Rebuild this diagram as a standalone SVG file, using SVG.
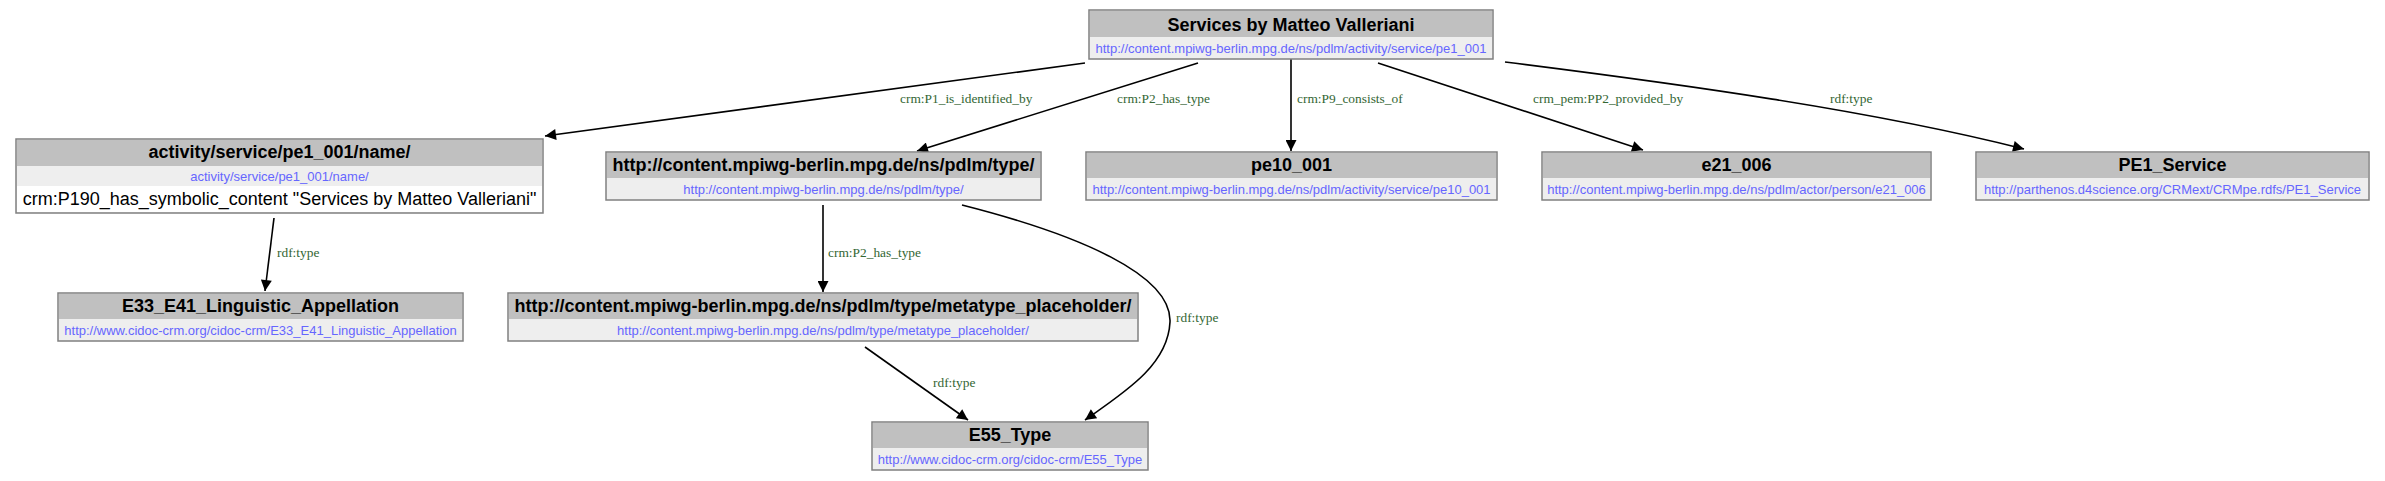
<svg xmlns="http://www.w3.org/2000/svg" width="2385" height="481" viewBox="0 0 2385 481">
<style>
.box{fill:#eeeeee;stroke:#808080;stroke-width:1.5}
.lit{fill:#ffffff;stroke:none}
.hdr{fill:#c0c0c0;stroke:none}
.title{font-family:"Liberation Sans",Arial,sans-serif;font-size:18px;font-weight:bold;fill:#000;text-anchor:middle}
.url{font-family:"Liberation Sans",Arial,sans-serif;font-size:13px;fill:#6666ff;text-anchor:middle}
.littext{font-family:"Liberation Sans",Arial,sans-serif;font-size:18px;fill:#000;text-anchor:middle}
.edge{fill:none;stroke:#000;stroke-width:1.6;marker-end:url(#arr)}
.elabel{font-family:"Liberation Serif","Times New Roman",serif;font-size:13.4px;fill:#336633}
</style>
<defs>
<marker id="arr" viewBox="0 0 10 10" refX="10" refY="5" markerWidth="16" markerHeight="11" markerUnits="userSpaceOnUse" orient="auto">
<path d="M0,0 L10,5 L0,10 z" fill="#000"/>
</marker>
</defs>
<rect width="2385" height="481" fill="#ffffff"/>
<g id="connectors">
<path class="edge" d="M1085,63 L545,136"/>
<path class="edge" d="M1198,63 L917,151"/>
<path class="edge" d="M1291,59 L1291,151"/>
<path class="edge" d="M1378,63 L1643,150"/>
<path class="edge" d="M1505,62 C1680,84 1870,110 2024,149"/>
<path class="edge" d="M274,218 L265,291"/>
<path class="edge" d="M823,205 L823,292"/>
<path class="edge" d="M865,347 L968,420"/>
<path class="edge" d="M962,205 C1080,235 1172,275 1170,322 C1168,365 1125,392 1085,420"/>
<text class="elabel" x="900" y="103">crm:P1_is_identified_by</text>
<text class="elabel" x="1117" y="103">crm:P2_has_type</text>
<text class="elabel" x="1297" y="103">crm:P9_consists_of</text>
<text class="elabel" x="1533" y="103">crm_pem:PP2_provided_by</text>
<text class="elabel" x="1830" y="103">rdf:type</text>
<text class="elabel" x="277" y="257">rdf:type</text>
<text class="elabel" x="828" y="257">crm:P2_has_type</text>
<text class="elabel" x="933" y="387">rdf:type</text>
<text class="elabel" x="1176" y="322">rdf:type</text>
</g>
<g id="n0">
<rect class="box" x="1089" y="10" width="404" height="49"/>
<rect class="hdr" x="1090" y="11" width="402" height="26"/>
<text class="title" x="1291" y="31">Services by Matteo Valleriani</text>
<text class="url" x="1291" y="53">http://content.mpiwg-berlin.mpg.de/ns/pdlm/activity/service/pe1_001</text>
</g>
<g id="n1">
<rect class="box" x="16" y="139" width="527" height="74"/>
<rect class="hdr" x="17" y="140" width="525" height="26"/>
<rect class="lit" x="17" y="186" width="525" height="26"/>
<text class="title" x="279.5" y="158">activity/service/pe1_001/name/</text>
<text class="url" x="279.5" y="181">activity/service/pe1_001/name/</text>
<text class="littext" x="279.5" y="205">crm:P190_has_symbolic_content "Services by Matteo Valleriani"</text>
</g>
<g id="n2">
<rect class="box" x="606" y="152" width="435" height="48"/>
<rect class="hdr" x="607" y="153" width="433" height="25"/>
<text class="title" x="823.5" y="171">http://content.mpiwg-berlin.mpg.de/ns/pdlm/type/</text>
<text class="url" x="823.5" y="194">http://content.mpiwg-berlin.mpg.de/ns/pdlm/type/</text>
</g>
<g id="n3">
<rect class="box" x="1086" y="152" width="411" height="48"/>
<rect class="hdr" x="1087" y="153" width="409" height="25"/>
<text class="title" x="1291.5" y="171">pe10_001</text>
<text class="url" x="1291.5" y="194">http://content.mpiwg-berlin.mpg.de/ns/pdlm/activity/service/pe10_001</text>
</g>
<g id="n4">
<rect class="box" x="1542" y="152" width="389" height="48"/>
<rect class="hdr" x="1543" y="153" width="387" height="25"/>
<text class="title" x="1736.5" y="171">e21_006</text>
<text class="url" x="1736.5" y="194">http://content.mpiwg-berlin.mpg.de/ns/pdlm/actor/person/e21_006</text>
</g>
<g id="n5">
<rect class="box" x="1976" y="152" width="393" height="48"/>
<rect class="hdr" x="1977" y="153" width="391" height="25"/>
<text class="title" x="2172.5" y="171">PE1_Service</text>
<text class="url" x="2172.5" y="194">http://parthenos.d4science.org/CRMext/CRMpe.rdfs/PE1_Service</text>
</g>
<g id="n6">
<rect class="box" x="58" y="293" width="405" height="48"/>
<rect class="hdr" x="59" y="294" width="403" height="25"/>
<text class="title" x="260.5" y="312">E33_E41_Linguistic_Appellation</text>
<text class="url" x="260.5" y="335">http://www.cidoc-crm.org/cidoc-crm/E33_E41_Linguistic_Appellation</text>
</g>
<g id="n7">
<rect class="box" x="508" y="293" width="630" height="48"/>
<rect class="hdr" x="509" y="294" width="628" height="25"/>
<text class="title" x="823" y="312">http://content.mpiwg-berlin.mpg.de/ns/pdlm/type/metatype_placeholder/</text>
<text class="url" x="823" y="335">http://content.mpiwg-berlin.mpg.de/ns/pdlm/type/metatype_placeholder/</text>
</g>
<g id="n8">
<rect class="box" x="872" y="422" width="276" height="48"/>
<rect class="hdr" x="873" y="423" width="274" height="25"/>
<text class="title" x="1010" y="441">E55_Type</text>
<text class="url" x="1010" y="464">http://www.cidoc-crm.org/cidoc-crm/E55_Type</text>
</g>
</svg>
